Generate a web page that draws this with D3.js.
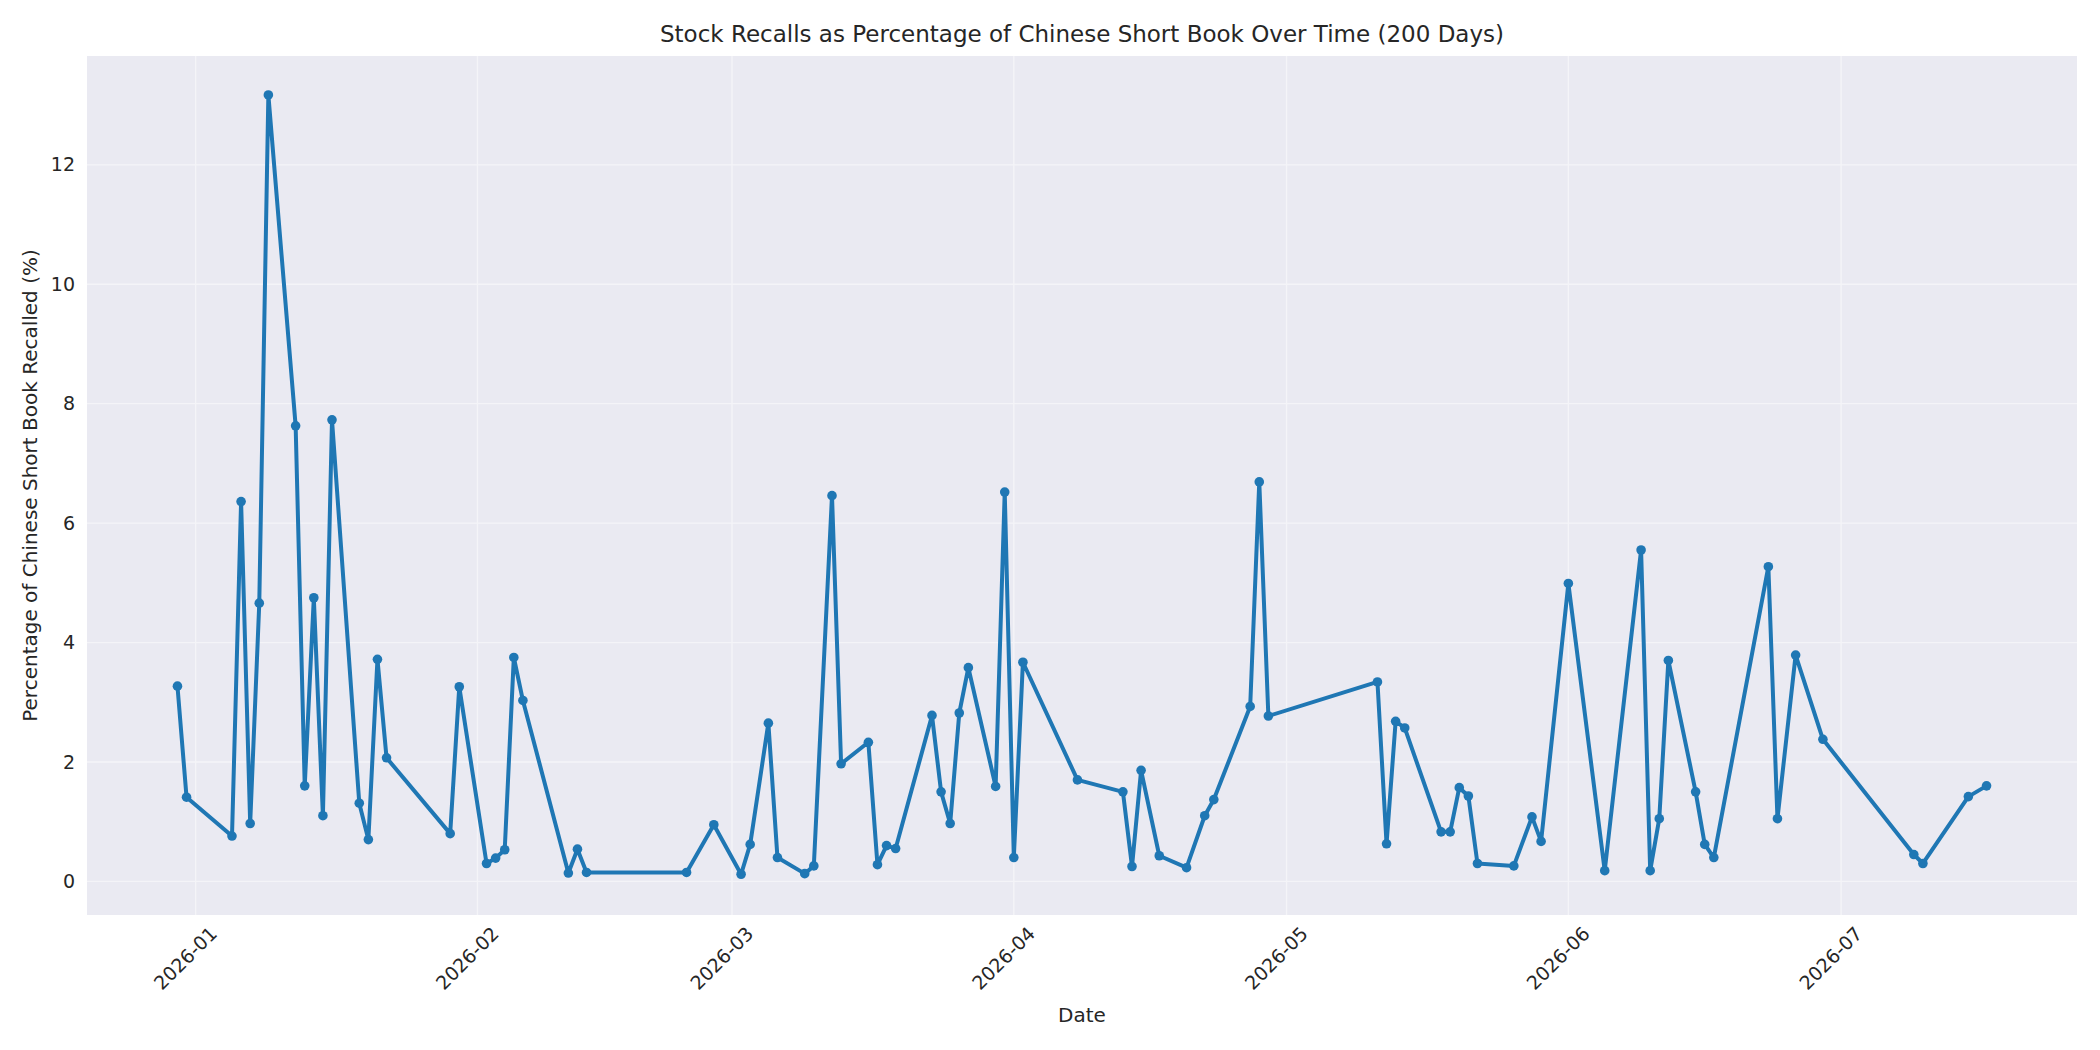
<!DOCTYPE html>
<html>
<head>
<meta charset="utf-8">
<script src="https://cdn.jsdelivr.net/npm/d3@7"></script>
<style>
  body { margin: 0; background: #fff; }
  text { font-family: 'DejaVu Sans', sans-serif; fill: #262626; }
</style>
</head>
<body>
<svg id="chart"></svg>
<script>
// recall dates and percentage of Chinese short book recalled
const dates = [
  '2025-12-30', '2025-12-31', '2026-01-05', '2026-01-06', '2026-01-07', '2026-01-08', '2026-01-09',
  '2026-01-12', '2026-01-13', '2026-01-14', '2026-01-15', '2026-01-16', '2026-01-19', '2026-01-20',
  '2026-01-21', '2026-01-22', '2026-01-29', '2026-01-30', '2026-02-02', '2026-02-03', '2026-02-04',
  '2026-02-05', '2026-02-06', '2026-02-11', '2026-02-12', '2026-02-13', '2026-02-24', '2026-02-27',
  '2026-03-02', '2026-03-03', '2026-03-05', '2026-03-06', '2026-03-09', '2026-03-10', '2026-03-12',
  '2026-03-13', '2026-03-16', '2026-03-17', '2026-03-18', '2026-03-19', '2026-03-23', '2026-03-24',
  '2026-03-25', '2026-03-26', '2026-03-27', '2026-03-30', '2026-03-31', '2026-04-01', '2026-04-02',
  '2026-04-08', '2026-04-13', '2026-04-14', '2026-04-15', '2026-04-17', '2026-04-20', '2026-04-22',
  '2026-04-23', '2026-04-27', '2026-04-28', '2026-04-29', '2026-05-11', '2026-05-12', '2026-05-13',
  '2026-05-14', '2026-05-18', '2026-05-19', '2026-05-20', '2026-05-21', '2026-05-22', '2026-05-26',
  '2026-05-28', '2026-05-29', '2026-06-01', '2026-06-05', '2026-06-09', '2026-06-10', '2026-06-11',
  '2026-06-12', '2026-06-15', '2026-06-16', '2026-06-17', '2026-06-23', '2026-06-24', '2026-06-26',
  '2026-06-29', '2026-07-09', '2026-07-10', '2026-07-15', '2026-07-17'
];
const recallPct = [
  3.27, 1.41, 0.76, 6.36, 0.97, 4.66, 13.17,
  7.63, 1.60, 4.75, 1.10, 7.73, 1.31, 0.70,
  3.72, 2.07, 0.80, 3.26, 0.30, 0.39, 0.53,
  3.75, 3.03, 0.14, 0.54, 0.15, 0.15, 0.95,
  0.12, 0.62, 2.65, 0.40, 0.13, 0.26, 6.46,
  1.97, 2.33, 0.28, 0.60, 0.55, 2.78, 1.50,
  0.97, 2.82, 3.58, 1.59, 6.52, 0.40, 3.67,
  1.70, 1.50, 0.25, 1.86, 0.43, 0.23, 1.10,
  1.37, 2.93, 6.69, 2.77, 3.34, 0.63, 2.68,
  2.57, 0.83, 0.83, 1.57, 1.43, 0.30, 0.26,
  1.08, 0.67, 4.99, 0.18, 5.55, 0.18, 1.05,
  3.70, 1.50, 0.62, 0.40, 5.27, 1.05, 3.79,
  2.38, 0.45, 0.30, 1.42, 1.60
];
const yTicks = [0, 2, 4, 6, 8, 10, 12];

const W = 2100, H = 1050;
const margin = { top: 56, right: 23, bottom: 135, left: 87 };
const parse = d3.utcParse('%Y-%m-%d');
const data = dates.map((d, i) => ({ date: parse(d), value: recallPct[i] }));

const svg = d3.select('#chart').attr('width', W).attr('height', H);

const xExt = d3.extent(data, d => d.date);
const pad = (xExt[1] - xExt[0]) * 0.05;
const x = d3.scaleUtc()
  .domain([new Date(+xExt[0] - pad), new Date(+xExt[1] + pad)])
  .range([margin.left, W - margin.right]);
const yMax = d3.max(recallPct);
const yPad = (yMax - 0.12) * 0.05;
const y = d3.scaleLinear()
  .domain([0.12 - yPad - 0.03, yMax + yPad])
  .range([H - margin.bottom, margin.top]);

svg.append('rect')
  .attr('x', margin.left).attr('y', margin.top)
  .attr('width', W - margin.left - margin.right)
  .attr('height', H - margin.top - margin.bottom)
  .attr('fill', '#eaeaf2');

const xTicks = x.ticks(d3.utcMonth.every(1));

// grid
svg.append('g').selectAll('line').data(xTicks).enter().append('line')
  .attr('x1', d => x(d)).attr('x2', d => x(d))
  .attr('y1', margin.top).attr('y2', H - margin.bottom)
  .attr('stroke', '#f4f4f8').attr('stroke-width', 1.3);
svg.append('g').selectAll('line').data(yTicks).enter().append('line')
  .attr('x1', margin.left).attr('x2', W - margin.right)
  .attr('y1', d => y(d)).attr('y2', d => y(d))
  .attr('stroke', '#f4f4f8').attr('stroke-width', 1.3);

// axes
const xAxis = svg.append('g')
  .attr('transform', `translate(0,${H - margin.bottom})`)
  .call(d3.axisBottom(x).tickValues(xTicks).tickFormat(d3.utcFormat('%Y-%m')).tickSize(0));
xAxis.select('.domain').remove();
xAxis.selectAll('text')
  .attr('font-size', 19).attr('dy', null).attr('y', 0)
  .attr('text-anchor', 'middle')
  .attr('transform', 'translate(-6,48) rotate(-45)');

const yAxis = svg.append('g')
  .attr('transform', `translate(${margin.left},0)`)
  .call(d3.axisLeft(y).tickValues(yTicks).tickFormat(d3.format('d')).tickSize(0).tickPadding(12));
yAxis.select('.domain').remove();
yAxis.selectAll('text').attr('font-size', 19);

// series
svg.append('path')
  .datum(data)
  .attr('fill', 'none')
  .attr('stroke', '#1f77b4')
  .attr('stroke-width', 4)
  .attr('stroke-linejoin', 'round')
  .attr('d', d3.line().x(d => x(d.date)).y(d => y(d.value)));

svg.append('g').selectAll('circle').data(data).enter().append('circle')
  .attr('cx', d => x(d.date)).attr('cy', d => y(d.value))
  .attr('r', 4.8).attr('fill', '#1f77b4');

// labels
svg.append('text')
  .attr('x', (margin.left + W - margin.right) / 2).attr('y', 42)
  .attr('text-anchor', 'middle').attr('font-size', 23)
  .text('Stock Recalls as Percentage of Chinese Short Book Over Time (200 Days)');
svg.append('text')
  .attr('x', (margin.left + W - margin.right) / 2).attr('y', 1022)
  .attr('text-anchor', 'middle').attr('font-size', 20)
  .text('Date');
svg.append('text')
  .attr('transform', `translate(37,${(margin.top + H - margin.bottom) / 2}) rotate(-90)`)
  .attr('text-anchor', 'middle').attr('font-size', 20)
  .text('Percentage of Chinese Short Book Recalled (%)');
</script>
</body>
</html>
